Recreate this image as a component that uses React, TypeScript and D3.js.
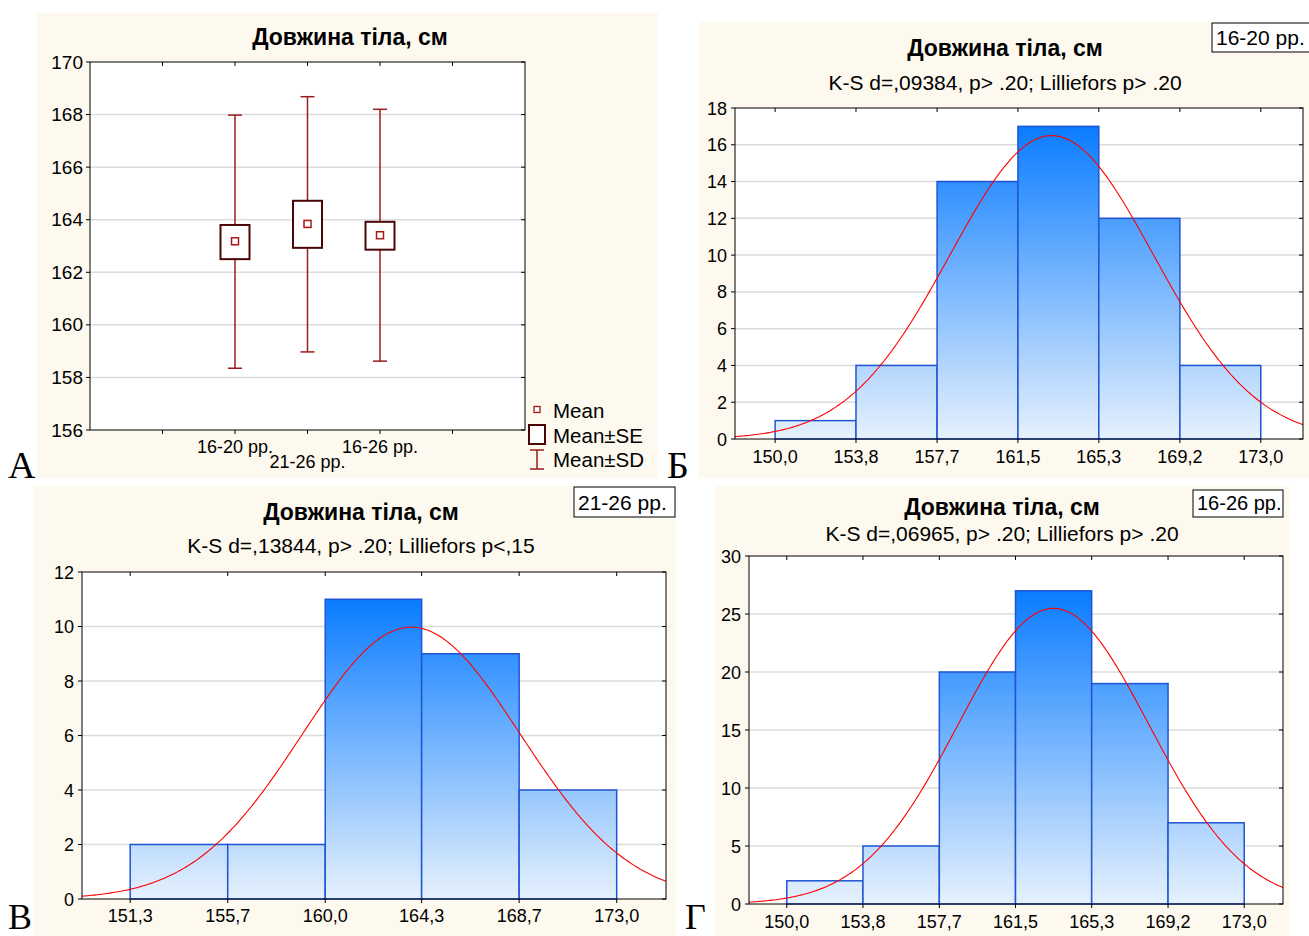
import React from 'react';
import * as d3 from 'd3';

// ---------- Panel A data ----------
const groups = ['16-20 рр.', '21-26 рр.', '16-26 рр.'];
const groupMean = [163.18, 163.84, 163.41];
const groupSELow = [162.5, 162.93, 162.86];
const groupSEHigh = [163.8, 164.72, 163.92];
const groupSDLow = [158.35, 158.97, 158.62];
const groupSDHigh = [167.98, 168.68, 168.2];
const aYTicks = [156, 158, 160, 162, 164, 166, 168, 170];
const legendLabels = ['Mean', 'Mean±SE', 'Mean±SD'];

// ---------- Histogram data ----------
const titleText = 'Довжина тіла, см';

const bEdges = [150.0, 153.83, 157.67, 161.5, 165.33, 169.17, 173.0];
const bTickLabels = ['150,0', '153,8', '157,7', '161,5', '165,3', '169,2', '173,0'];
const bCounts = [1, 4, 14, 17, 12, 4];
const bNormal = { mean: 163.1, sd: 4.82 };
const bYTicks = [0, 2, 4, 6, 8, 10, 12, 14, 16, 18];

const vEdges = [151.3, 155.65, 160.0, 164.3, 168.65, 173.0];
const vTickLabels = ['151,3', '155,7', '160,0', '164,3', '168,7', '173,0'];
const vCounts = [2, 2, 11, 9, 4];
const vNormal = { mean: 163.84, sd: 4.86 };
const vYTicks = [0, 2, 4, 6, 8, 10, 12];

const gEdges = [150.0, 153.83, 157.67, 161.5, 165.33, 169.17, 173.0];
const gTickLabels = ['150,0', '153,8', '157,7', '161,5', '165,3', '169,2', '173,0'];
const gCounts = [2, 5, 20, 27, 19, 7];
const gNormal = { mean: 163.41, sd: 4.8 };
const gYTicks = [0, 5, 10, 15, 20, 25, 30];

const SANS = '"Liberation Sans", Arial, sans-serif';
const SERIF = '"Liberation Serif", "Times New Roman", serif';
const CREAM = '#fdf9ee';
const GRID = '#dcdcdc';

function BoxPanel() {
  const L = 90, R = 525, T = 62, B = 430;
  const x = d3.scalePoint<string>().domain(groups).range([L, R]).padding(2);
  const y = d3.scaleLinear().domain([156, 170]).range([B, T]);
  const step = x.step();
  const xTickPos = d3.range(-1, groups.length + 1).map((i) => (x(groups[0]) as number) + i * step);
  const boxW = 29;
  const capW = 14;
  const whisk = '#9b1c1c';
  const boxC = '#4a0606';
  const meanC = '#a81818';
  return (
    <g>
      <rect x={37} y={13} width={621} height={465} fill={CREAM} />
      <text x={350} y={45} textAnchor="middle" fontFamily={SANS} fontWeight="bold" fontSize={23}>{titleText}</text>
      <rect x={L} y={T} width={R - L} height={B - T} fill="#fff" />
      {aYTicks.map((t) => (
        <g key={t}>
          {t !== 156 && t !== 170 && <line x1={L} x2={R} y1={y(t)} y2={y(t)} stroke={GRID} strokeWidth={1.5} />}
          <line x1={L - 4} x2={L} y1={y(t)} y2={y(t)} stroke="#000" />
          <line x1={R - 4} x2={R} y1={y(t)} y2={y(t)} stroke="#000" />
          <text x={L - 7} y={y(t) + 6.5} textAnchor="end" fontFamily={SANS} fontSize={19}>{t}</text>
        </g>
      ))}
      {xTickPos.map((p, i) => (
        <g key={i}>
          <line x1={p} x2={p} y1={T} y2={T + 4} stroke="#000" />
          <line x1={p} x2={p} y1={B} y2={B + 4} stroke="#000" />
        </g>
      ))}
      <rect x={L} y={T} width={R - L} height={B - T} fill="none" stroke="#000" strokeWidth={1} />
      {groups.map((g, i) => {
        const cx = x(g) as number;
        return (
          <g key={g}>
            <line x1={cx} x2={cx} y1={y(groupSDHigh[i])} y2={y(groupSEHigh[i])} stroke={whisk} strokeWidth={1.5} />
            <line x1={cx} x2={cx} y1={y(groupSELow[i])} y2={y(groupSDLow[i])} stroke={whisk} strokeWidth={1.5} />
            <line x1={cx - capW / 2} x2={cx + capW / 2} y1={y(groupSDHigh[i])} y2={y(groupSDHigh[i])} stroke={whisk} strokeWidth={1.5} />
            <line x1={cx - capW / 2} x2={cx + capW / 2} y1={y(groupSDLow[i])} y2={y(groupSDLow[i])} stroke={whisk} strokeWidth={1.5} />
            <rect x={cx - boxW / 2} y={y(groupSEHigh[i])} width={boxW} height={y(groupSELow[i]) - y(groupSEHigh[i])} fill="#fff" stroke={boxC} strokeWidth={2} />
            <rect x={cx - 3.5} y={y(groupMean[i]) - 3.5} width={7} height={7} fill="#fff" stroke={meanC} strokeWidth={1.5} />
            <text x={cx} y={i === 1 ? 468 : 453} textAnchor="middle" fontFamily={SANS} fontSize={18}>{g}</text>
          </g>
        );
      })}
      {/* legend */}
      <rect x={534} y={406.5} width={6} height={6} fill="#fff" stroke={meanC} strokeWidth={1.3} />
      <rect x={529} y={425} width={16} height={19} fill="#fff" stroke={boxC} strokeWidth={2} />
      <line x1={537} x2={537} y1={450} y2={469} stroke={whisk} strokeWidth={1.5} />
      <line x1={530} x2={544} y1={450} y2={450} stroke={whisk} strokeWidth={1.5} />
      <line x1={530} x2={544} y1={469} y2={469} stroke={whisk} strokeWidth={1.5} />
      {legendLabels.map((l, i) => (
        <text key={l} x={553} y={418 + i * 24.5} fontFamily={SANS} fontSize={20.5}>{l}</text>
      ))}
    </g>
  );
}

type HistProps = {
  id: string;
  bg: [number, number, number, number];
  plot: [number, number, number, number]; // L,T,R,B
  xDomain: [number, number];
  edges: number[];
  tickLabels: string[];
  counts: number[];
  normal: { mean: number; sd: number };
  yTicks: number[];
  title: [number, number];
  subtitle: string;
  subY: number;
  label: string;
  labelBox: [number, number, number, number];
  labelFont: number;
  xLabelY: number;
};

function Histogram(p: HistProps) {
  const [L, T, R, B] = p.plot;
  const x = d3.scaleLinear().domain(p.xDomain).range([L, R]);
  const yMax = p.yTicks[p.yTicks.length - 1];
  const y = d3.scaleLinear().domain([0, yMax]).range([B, T]);
  const n = d3.sum(p.counts);
  const w = (p.edges[p.edges.length - 1] - p.edges[0]) / p.counts.length;
  const pts = d3.range(0, 301).map((i) => {
    const xv = p.xDomain[0] + ((p.xDomain[1] - p.xDomain[0]) * i) / 300;
    const z = (xv - p.normal.mean) / p.normal.sd;
    const v = (n * w) / (p.normal.sd * Math.sqrt(2 * Math.PI)) * Math.exp(-0.5 * z * z);
    return [xv, v] as [number, number];
  });
  const line = d3.line<[number, number]>().x((d) => x(d[0])).y((d) => y(d[1]));
  const maxC = d3.max(p.counts) as number;
  const gid = 'grad-' + p.id;
  return (
    <g>
      <defs>
        <linearGradient id={gid} gradientUnits="userSpaceOnUse" x1={0} x2={0} y1={y(maxC)} y2={B}>
          <stop offset="0" stopColor="#0a7cff" />
          <stop offset="1" stopColor="#e6f1fd" />
        </linearGradient>
        <clipPath id={'clip-' + p.id}>
          <rect x={L} y={T} width={R - L} height={B - T} />
        </clipPath>
      </defs>
      <rect x={p.bg[0]} y={p.bg[1]} width={p.bg[2]} height={p.bg[3]} fill={CREAM} />
      <text x={p.title[0]} y={p.title[1]} textAnchor="middle" fontFamily={SANS} fontWeight="bold" fontSize={23}>{titleText}</text>
      <text x={p.title[0]} y={p.subY} textAnchor="middle" fontFamily={SANS} fontSize={21}>{p.subtitle}</text>
      <rect x={p.labelBox[0]} y={p.labelBox[1]} width={p.labelBox[2]} height={p.labelBox[3]} fill="#fff" stroke="#000" strokeWidth={1} />
      <text x={p.labelBox[0] + 4} y={p.labelBox[1] + p.labelBox[3] - 7} fontFamily={SANS} fontSize={p.labelFont}>{p.label}</text>
      <rect x={L} y={T} width={R - L} height={B - T} fill="#fff" />
      {p.yTicks.map((t) => (
        <g key={t}>
          {t !== 0 && t !== yMax && <line x1={L} x2={R} y1={y(t)} y2={y(t)} stroke={GRID} strokeWidth={1.5} />}
          <line x1={L - 4} x2={L} y1={y(t)} y2={y(t)} stroke="#000" />
          <line x1={R - 4} x2={R} y1={y(t)} y2={y(t)} stroke="#000" />
          <text x={L - 8} y={y(t) + 6.5} textAnchor="end" fontFamily={SANS} fontSize={18}>{t}</text>
        </g>
      ))}
      {p.counts.map((c, i) => (
        <rect key={i} x={x(p.edges[i])} y={y(c)} width={x(p.edges[i + 1]) - x(p.edges[i])} height={B - y(c)}
          fill={`url(#${gid})`} stroke="#1f55d4" strokeWidth={1.5} />
      ))}
      <path d={line(pts) as string} fill="none" stroke="#ff0000" strokeWidth={1.1} clipPath={`url(#clip-${p.id})`} />
      {p.edges.map((e, i) => (
        <g key={i}>
          <line x1={x(e)} x2={x(e)} y1={T} y2={T + 4} stroke="#000" />
          <line x1={x(e)} x2={x(e)} y1={B} y2={B + 4} stroke="#000" />
          <text x={x(e)} y={p.xLabelY} textAnchor="middle" fontFamily={SANS} fontSize={18}>{p.tickLabels[i]}</text>
        </g>
      ))}
      <rect x={L} y={T} width={R - L} height={B - T} fill="none" stroke="#000" strokeWidth={1} />
    </g>
  );
}

export default function App() {
  return (
    <svg width={1309} height={936} style={{ position: 'absolute', left: 0, top: 0, background: '#fff' }}>
      <BoxPanel />
      <Histogram id="b" bg={[699, 22, 610, 456]} plot={[735, 108, 1303, 439]} xDomain={[148.1, 175.0]}
        edges={bEdges} tickLabels={bTickLabels} counts={bCounts} normal={bNormal} yTicks={bYTicks}
        title={[1005, 56]} subtitle="K-S d=,09384, p> .20; Lilliefors p> .20" subY={90}
        label="16-20 рр." labelBox={[1212, 23, 100, 29]} labelFont={21} xLabelY={463} />
      <Histogram id="v" bg={[34, 486, 642, 450]} plot={[82, 572, 666, 899]} xDomain={[149.15, 175.2]}
        edges={vEdges} tickLabels={vTickLabels} counts={vCounts} normal={vNormal} yTicks={vYTicks}
        title={[361, 520]} subtitle="K-S d=,13844, p> .20; Lilliefors p<,15" subY={553}
        label="21-26 рр." labelBox={[574, 487, 101, 30]} labelFont={21} xLabelY={922} />
      <Histogram id="g" bg={[715, 486, 575, 450]} plot={[749, 556, 1283, 904]} xDomain={[148.1, 174.95]}
        edges={gEdges} tickLabels={gTickLabels} counts={gCounts} normal={gNormal} yTicks={gYTicks}
        title={[1002, 515]} subtitle="K-S d=,06965, p> .20; Lilliefors p> .20" subY={541}
        label="16-26 рр." labelBox={[1193, 490, 90, 27]} labelFont={20} xLabelY={928} />
      <text x={8} y={478} fontFamily={SERIF} fontSize={38}>А</text>
      <text x={667} y={478} fontFamily={SERIF} fontSize={38}>Б</text>
      <text x={8} y={929} fontFamily={SERIF} fontSize={36}>В</text>
      <text x={685} y={929} fontFamily={SERIF} fontSize={36}>Г</text>
    </svg>
  );
}
